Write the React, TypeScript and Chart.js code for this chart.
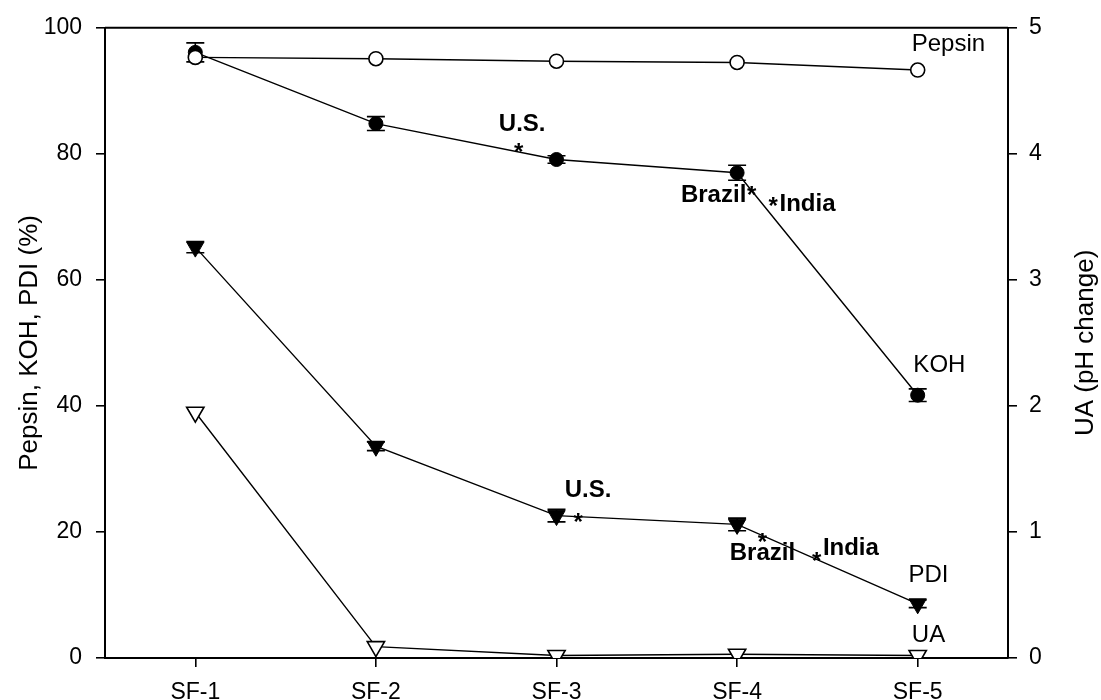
import React, { useEffect, useRef } from "react";
import { Chart, registerables } from "chart.js";

Chart.register(...registerables);

const FONT = "'Liberation Sans', Arial, sans-serif";

const categories = ["SF-1", "SF-2", "SF-3", "SF-4", "SF-5"];
const pepsin = [95.3, 95.1, 94.7, 94.5, 93.3];
const koh = [96.1, 84.8, 79.1, 77.0, 41.7];
const kohErr = [1.5, 1.1, 0.6, 1.2, 1.0];
const pdi = [65.2, 33.6, 22.6, 21.2, 8.6];
const pdiErr = [0.9, 0.7, 1.0, 1.0, 0.6];
const ua = [1.95, 0.09, 0.02, 0.03, 0.02];

const leftTicks = [0, 20, 40, 60, 80, 100];
const rightTicks = [0, 1, 2, 3, 4, 5];

const leftTitle = "Pepsin, KOH, PDI (%)";
const rightTitle = "UA (pH change)";

// annotations: [text, category position, value on left axis, bold]
const annotations: [string, number, number, boolean][] = [
  ["Pepsin", 4.17, 97.3, false],
  ["KOH", 4.12, 46.4, false],
  ["PDI", 4.06, 13.1, false],
  ["UA", 4.06, 3.6, false],
  ["U.S.", 1.81, 84.7, true],
  ["*", 1.79, 80.9, true],
  ["Brazil", 2.87, 73.4, true],
  ["*", 3.08, 74.1, true],
  ["*", 3.2, 72.3, true],
  ["India", 3.39, 72.0, true],
  ["U.S.", 2.175, 26.6, true],
  ["*", 2.12, 22.15, true],
  ["*", 3.14, 19.1, true],
  ["Brazil", 3.14, 16.6, true],
  ["*", 3.44, 16.0, true],
  ["India", 3.63, 17.4, true],
];

const errorBars = [
  { dataset: 1, errors: kohErr },
  { dataset: 2, errors: pdiErr },
];

const overlayPlugin = {
  id: "overlay",
  beforeDatasetsDraw(chart: any) {
    const ctx = chart.ctx;
    ctx.save();
    ctx.strokeStyle = "#000";
    ctx.lineWidth = 1.6;
    errorBars.forEach(({ dataset, errors }) => {
      const values = chart.data.datasets[dataset].data as number[];
      const ys = chart.scales.y;
      const xs = chart.scales.x;
      values.forEach((v, i) => {
        const x = xs.getPixelForValue(i);
        const y1 = ys.getPixelForValue(v + errors[i]);
        const y2 = ys.getPixelForValue(v - errors[i]);
        ctx.beginPath();
        ctx.moveTo(x, y1);
        ctx.lineTo(x, y2);
        ctx.moveTo(x - 9, y1);
        ctx.lineTo(x + 9, y1);
        ctx.moveTo(x - 9, y2);
        ctx.lineTo(x + 9, y2);
        ctx.stroke();
      });
    });
    ctx.restore();
  },
  afterDraw(chart: any) {
    const ctx = chart.ctx;
    const area = chart.chartArea;
    const xs = chart.scales.x;
    const ys = chart.scales.y;
    ctx.save();
    // top frame line
    ctx.strokeStyle = "#000";
    ctx.lineWidth = 2;
    ctx.beginPath();
    ctx.moveTo(area.left, area.top);
    ctx.lineTo(area.right, area.top);
    ctx.stroke();

    ctx.fillStyle = "#000";
    ctx.textAlign = "center";
    ctx.textBaseline = "middle";
    annotations.forEach(([text, xi, yv, bold]) => {
      const size = 24;
      ctx.font = `${bold ? "bold " : ""}${size}px ${FONT}`;
      const x = xs.getPixelForValue(0) + xi * (xs.getPixelForValue(1) - xs.getPixelForValue(0));
      let y = ys.getPixelForValue(yv);
      if (text === "*") y += 0.22 * size;
      ctx.fillText(text, x, y);
    });

    // axis titles
    ctx.font = `26px ${FONT}`;
    const cy = (area.top + area.bottom) / 2;
    ctx.save();
    ctx.translate(30, cy);
    ctx.rotate(-Math.PI / 2);
    ctx.fillText(leftTitle, 0, 0);
    ctx.restore();
    ctx.save();
    ctx.translate(1086, cy);
    ctx.rotate(-Math.PI / 2);
    ctx.fillText(rightTitle, 0, 0);
    ctx.restore();
    ctx.restore();
  },
};

export default function App() {
  const ref = useRef<HTMLCanvasElement>(null);
  useEffect(() => {
    if (!ref.current) return;
    const axisGrid = {
      display: true,
      drawOnChartArea: false,
      drawTicks: true,
      tickLength: 9,
      color: "#000",
      lineWidth: 1.6,
    };
    const chart = new Chart(ref.current, {
      type: "line",
      data: {
        labels: categories,
        datasets: [
          {
            label: "Pepsin",
            data: pepsin,
            yAxisID: "y",
            borderColor: "#000",
            borderWidth: 1.4,
            pointStyle: "circle",
            pointRadius: 7,
            pointBackgroundColor: "#fff",
            pointBorderColor: "#000",
            pointBorderWidth: 1.6,
          },
          {
            label: "KOH",
            data: koh,
            yAxisID: "y",
            borderColor: "#000",
            borderWidth: 1.4,
            pointStyle: "circle",
            pointRadius: 7,
            pointBackgroundColor: "#000",
            pointBorderColor: "#000",
            pointBorderWidth: 1,
          },
          {
            label: "PDI",
            data: pdi,
            yAxisID: "y",
            borderColor: "#000",
            borderWidth: 1.4,
            pointStyle: "triangle",
            pointRotation: 180,
            pointRadius: 10,
            pointBackgroundColor: "#000",
            pointBorderColor: "#000",
            pointBorderWidth: 1,
          },
          {
            label: "UA",
            data: ua,
            yAxisID: "y2",
            borderColor: "#000",
            borderWidth: 1.4,
            pointStyle: "triangle",
            pointRotation: 180,
            pointRadius: 10,
            pointBackgroundColor: "#fff",
            pointBorderColor: "#000",
            pointBorderWidth: 1.6,
          },
        ],
      },
      options: {
        responsive: false,
        animation: false,
        layout: { padding: { top: 26, left: 0, right: 0, bottom: 0 } },
        plugins: {
          legend: { display: false },
          tooltip: { enabled: false },
          title: { display: false },
        },
        scales: {
          x: {
            type: "category",
            offset: true,
            grid: { ...axisGrid, offset: false },
            border: { display: true, color: "#000", width: 2 },
            ticks: {
              color: "#000",
              font: { family: FONT, size: 23 },
              padding: 12,
              maxRotation: 0,
              autoSkip: false,
            },
            afterFit: (s: any) => {
              s.height = 42;
            },
          },
          y: {
            position: "left",
            min: 0,
            max: 100,
            grid: axisGrid,
            border: { display: true, color: "#000", width: 2 },
            ticks: {
              color: "#000",
              font: { family: FONT, size: 23 },
              padding: 14,
              stepSize: 20,
            },
            afterBuildTicks: (s: any) => {
              s.ticks = leftTicks.map((v) => ({ value: v }));
            },
            afterFit: (s: any) => {
              s.width = 105;
            },
          },
          y2: {
            position: "right",
            min: 0,
            max: 5,
            grid: axisGrid,
            border: { display: true, color: "#000", width: 2 },
            ticks: {
              color: "#000",
              font: { family: FONT, size: 23 },
              padding: 12,
              stepSize: 1,
            },
            afterBuildTicks: (s: any) => {
              s.ticks = rightTicks.map((v) => ({ value: v }));
            },
            afterFit: (s: any) => {
              s.width = 93;
            },
          },
        },
      } as any,
      plugins: [overlayPlugin],
    });
    return () => chart.destroy();
  }, []);
  return (
    <div style={{ position: "fixed", left: 0, top: 0, width: 1101, height: 700, background: "#fff" }}>
      <canvas ref={ref} width={1101} height={700} style={{ width: 1101, height: 700, display: "block" }} />
    </div>
  );
}
